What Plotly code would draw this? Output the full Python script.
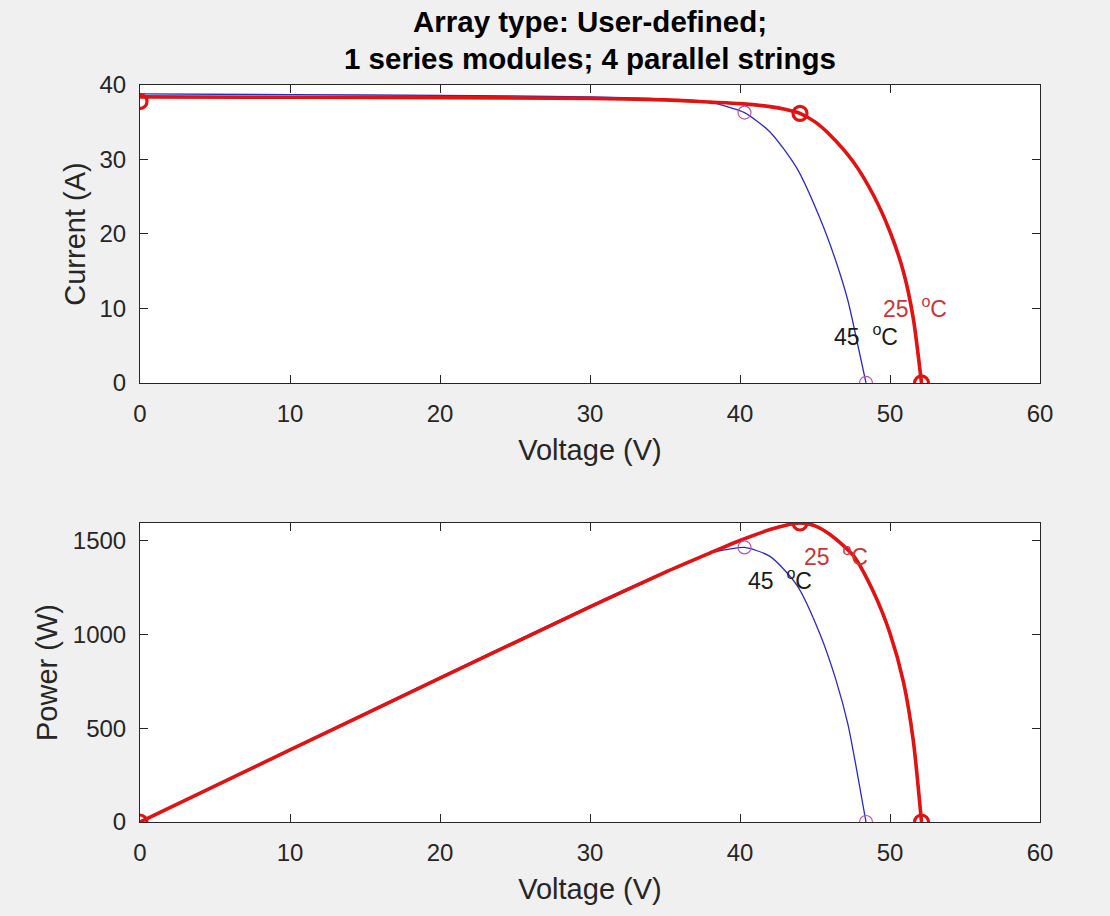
import plotly.graph_objects as go
from plotly.subplots import make_subplots

# ---- data ----
volt_25 = [0, 10, 20, 30, 35, 38, 40, 42, 43, 44, 45, 46, 47.55, 48.9, 50, 50.9, 51.55, 52.1]
curr_25 = [38.4, 38.35, 38.3, 38.2, 38.0, 37.7, 37.5, 37.1, 36.75, 36.2, 35.05, 33.3, 29.7, 25.2, 20.3, 14.9, 8.7, 0]
power_25 = [0, 384, 766, 1146, 1330, 1433, 1500, 1558, 1580, 1593, 1578, 1532, 1420, 1225, 1005, 745, 435, 0]

volt_45 = [0, 10, 20, 30, 35, 38, 39.3, 40.3, 42, 43.8, 45.33, 46.4, 47.2, 47.8, 48.4]
curr_45 = [38.8, 38.7, 38.6, 38.4, 38.1, 37.7, 37.0, 36.3, 33.7, 28.8, 22.1, 16.3, 11.0, 5.6, 0]
power_45 = [0, 387, 772, 1152, 1334, 1433, 1454, 1463, 1415, 1261, 1002, 756, 519, 268, 0]

mark_v_25 = [0, 44.0, 52.1]
mark_i_25 = [37.8, 36.2, 0]
mark_p_25 = [0, 1593, 0]
mark_v_45 = [40.3, 48.4]
mark_i_45 = [36.3, 0]
mark_p_45 = [1463, 0]

label_texts = ["25&nbsp; <sup>o</sup>C", "45&nbsp; <sup>o</sup>C"]
label_colors = ["#cc3535", "#1a1a1a"]
label_iv_v = [49.4, 46.1]
label_iv_i = [10.2, 6.4]
label_pv_v = [44.1, 40.4]
label_pv_p = [1424, 1296]

volt_ticks = [0, 10, 20, 30, 40, 50, 60]
curr_ticks = [0, 10, 20, 30, 40]
power_ticks = [0, 500, 1000, 1500]

title_lines = ["Array type: User-defined;", "1 series modules; 4 parallel strings"]

# ---- styles ----
FONT = "Liberation Sans, Arial, sans-serif"
RED = "#e01212"
BLUE = "#2b2bc4"
MAG = "#b455b0"
AXC = "#262626"

fig = make_subplots(rows=2, cols=1, vertical_spacing=0.19)

# IV curves
fig.add_trace(go.Scatter(x=volt_45, y=curr_45, mode="lines",
                         line=dict(color=BLUE, width=1.3, shape="spline", smoothing=0.7)), row=1, col=1)
fig.add_trace(go.Scatter(x=volt_25, y=curr_25, mode="lines",
                         line=dict(color=RED, width=3.6, shape="spline", smoothing=0.7)), row=1, col=1)
fig.add_trace(go.Scatter(x=mark_v_45, y=mark_i_45, mode="markers",
                         marker=dict(symbol="circle-open", size=13, color=MAG, line=dict(width=1.2))), row=1, col=1)
fig.add_trace(go.Scatter(x=mark_v_25, y=mark_i_25, mode="markers",
                         marker=dict(symbol="circle-open", size=14, color=RED, line=dict(width=3.2))), row=1, col=1)

# PV curves
fig.add_trace(go.Scatter(x=volt_45, y=power_45, mode="lines",
                         line=dict(color=BLUE, width=1.3, shape="spline", smoothing=0.7)), row=2, col=1)
fig.add_trace(go.Scatter(x=volt_25, y=power_25, mode="lines",
                         line=dict(color=RED, width=3.6, shape="spline", smoothing=0.7)), row=2, col=1)
fig.add_trace(go.Scatter(x=mark_v_45, y=mark_p_45, mode="markers",
                         marker=dict(symbol="circle-open", size=13, color=MAG, line=dict(width=1.2))), row=2, col=1)
fig.add_trace(go.Scatter(x=mark_v_25, y=mark_p_25, mode="markers",
                         marker=dict(symbol="circle-open", size=14, color=RED, line=dict(width=3.2))), row=2, col=1)

for k in range(2):
    fig.add_annotation(x=label_iv_v[k], y=label_iv_i[k], xref="x", yref="y", text=label_texts[k],
                       showarrow=False, xanchor="left", yanchor="middle",
                       font=dict(family=FONT, size=23, color=label_colors[k]))
    fig.add_annotation(x=label_pv_v[k], y=label_pv_p[k], xref="x2", yref="y2", text=label_texts[k],
                       showarrow=False, xanchor="left", yanchor="middle",
                       font=dict(family=FONT, size=23, color=label_colors[k]))

# title (two bold lines above the upper axes)
title_y = [1.0855, 1.0366]
for k, line in enumerate(title_lines):
    fig.add_annotation(x=0.5, y=title_y[k], xref="paper", yref="paper", text="<b>" + line + "</b>",
                       showarrow=False, xanchor="center", yanchor="middle",
                       font=dict(family=FONT, size=29.5, color="black"))

axis_common = dict(showgrid=False, zeroline=False, showline=True, linecolor=AXC, linewidth=1,
                   mirror="ticks", ticks="inside", ticklen=8, tickcolor=AXC,
                   tickfont=dict(family=FONT, size=24, color=AXC))

for r in (1, 2):
    fig.update_xaxes(range=[0, 60], tickvals=volt_ticks, ticklabelstandoff=9,
                     title=dict(text="Voltage (V)", font=dict(family=FONT, size=29, color=AXC), standoff=13),
                     row=r, col=1, **axis_common)
fig.update_yaxes(range=[0, 40], tickvals=curr_ticks, ticklabelstandoff=8,
                 title=dict(text="Current (A)", font=dict(family=FONT, size=29, color=AXC), standoff=5),
                 row=1, col=1, **axis_common)
fig.update_yaxes(range=[0, max(mark_p_25)], tickvals=power_ticks, ticklabelstandoff=8,
                 title=dict(text="Power (W)", font=dict(family=FONT, size=29, color=AXC), standoff=6),
                 row=2, col=1, **axis_common)

fig.update_layout(
    width=1110, height=916,
    margin=dict(l=140, r=70, t=85, b=94),
    paper_bgcolor="#f0f0f0", plot_bgcolor="white",
    showlegend=False,
)
fig.layout.yaxis.domain = [0.5957, 1.0]
fig.layout.yaxis2.domain = [0.0, 0.4057]

fig.write_html("out.html", config={"displayModeBar": False},
               post_script="document.body.style.margin='0';document.body.style.overflow='hidden';")
